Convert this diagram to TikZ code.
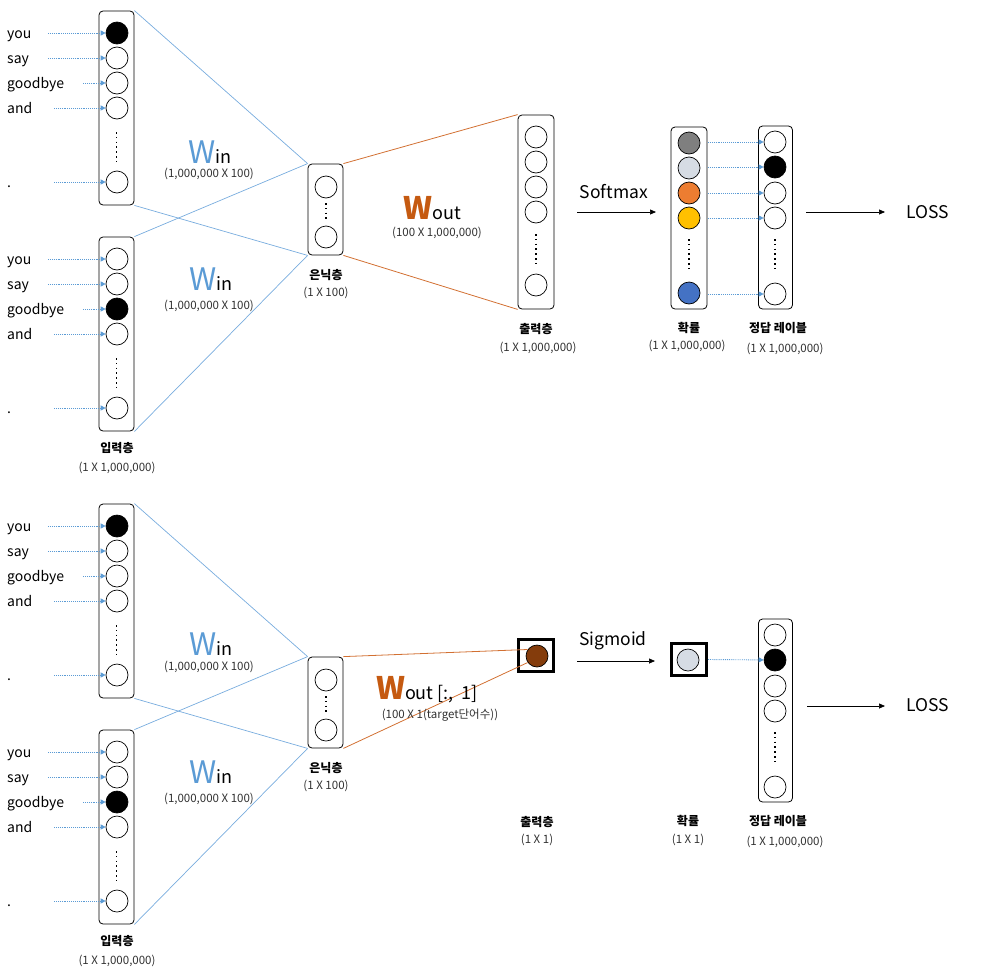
\documentclass[tikz,border=0pt]{standalone}
\usepackage{fontspec}
\setmainfont{Noto Sans CJK KR}
\usetikzlibrary{arrows.meta}

\definecolor{feedblue}{RGB}{91,155,213}
\definecolor{lineblue}{RGB}{120,172,222}
\definecolor{wblue}{RGB}{91,155,213}
\definecolor{lineorange}{RGB}{210,112,50}
\definecolor{worange}{RGB}{197,90,17}
\definecolor{brownunit}{RGB}{132,60,12}
\definecolor{pgray}{RGB}{127,127,127}
\definecolor{plight}{RGB}{214,220,228}
\definecolor{porange}{RGB}{237,125,49}
\definecolor{pyellow}{RGB}{255,192,0}
\definecolor{pblue}{RGB}{68,114,196}
\definecolor{dimtext}{RGB}{50,50,50}

\tikzset{
  colbox/.style={draw, rounded corners=4pt, line width=0.8pt, inner sep=0pt},
  thickbox/.style={draw, line width=3pt, inner sep=0pt},
  unit/.style={circle, draw, line width=0.7pt, minimum size=22pt, inner sep=0pt, fill=white},
  vdots/.style={line width=1.6pt, dash pattern=on 1.6pt off 3.2pt},
  feed/.style={densely dotted, line width=0.9pt, draw=feedblue,
    -{Triangle[length=5pt,width=5pt,fill=feedblue]}},
  inw/.style={draw=lineblue, line width=0.7pt},
  outw/.style={draw=lineorange, line width=0.8pt},
  flow/.style={line width=0.7pt, -{Triangle[length=6pt,width=5pt]}},
  word/.style={font=\fontsize{14}{16}\selectfont, inner sep=0pt, anchor=base west},
  ttl/.style={font=\bfseries\fontsize{12}{14}\selectfont, inner sep=0pt},
  dim/.style={font=\fontsize{11.5}{13}\selectfont, inner sep=0pt, text=dimtext},
  big/.style={font=\fontsize{17.5}{20}\selectfont, inner sep=0pt},
  wlabel/.style={inner sep=0pt, anchor=base},
}

% weight label: big coloured W followed by a subscript word
\newcommand\weightlabel[3]{{\fontsize{31}{31}\selectfont\color{#1}#3W}{\fontsize{18}{18}\selectfont #2}}

% one-hot input column: #1 name, #2 top edge, #3 index of the active word
\newcommand\wordcolumn[3]{%
  \node[colbox, minimum width=35pt, minimum height=194pt] (#1) at (116.5,{#2+97}) {};
  \foreach \k/\dy/\w/\sx in {1/22/you/48, 2/47/say/48, 3/72/goodbye/83, 4/97/and/54, 5/171/./54} {
    \ifnum\k=#3
      \node[unit, fill=black] (#1-\k) at (117,{#2+\dy}) {};
    \else
      \node[unit] (#1-\k) at (117,{#2+\dy}) {};
    \fi
    \node[word] (#1-w\k) at (7,{#2+\dy+5}) {\w};
    \coordinate (#1-s\k) at (\sx,{#2+\dy});
    \draw[feed] (#1-s\k) -- (#1-\k);
  }
  \draw[vdots] (116.5,{#2+121}) -- (116.5,{#2+152});
}

% hidden layer column: #1 name, #2 vertical offset
\newcommand\hiddencolumn[2]{%
  \node[colbox, minimum width=35pt, minimum height=91pt] (#1) at (325.5,{209.5+#2}) {};
  \node[unit] (#1-1) at (326,{187+#2}) {};
  \node[unit] (#1-2) at (326,{237+#2}) {};
  \draw[vdots] (326,{203+#2}) -- (326,{220+#2});
  \node[ttl] (#1-t) at (326,{275+#2}) {은닉층};
  \node[dim] (#1-d) at (326,{293+#2}) {(1 X 100)};
}

% correct-label column: #1 name, #2 vertical offset
\newcommand\answercolumn[2]{%
  \node[colbox, minimum width=34pt, minimum height=183pt] (#1) at (775.5,{217.5+#2}) {};
  \foreach \k/\y in {1/142, 2/167, 3/193, 4/218, 5/294} {
    \ifnum\k=2
      \node[unit, fill=black] (#1-\k) at (775,{\y+#2}) {};
    \else
      \node[unit] (#1-\k) at (775,{\y+#2}) {};
    \fi
  }
  \draw[vdots] (775,{239+#2}) -- (775,{270+#2});
  \node[ttl] (#1-t) at (778,{328+#2}) {정답 레이블};
  \node[dim] (#1-d) at (785,{349+#2}) {(1 X 1,000,000)};
}

\begin{document}
\begin{tikzpicture}[x=1pt, y=-1pt]
\useasboundingbox (0,0) rectangle (984,977);

%% ---------------- softmax model ----------------
\wordcolumn{inA}{11}{1}
\wordcolumn{inB}{237}{3}
\node[ttl] (inB-t) at (117,448) {입력층};
\node[dim] (inB-d) at (117,468) {(1 X 1,000,000)};

\hiddencolumn{hidA}{0}

\draw[inw] (inA.north east) -- (hidA.north west);
\draw[inw] (inA.south east) -- (hidA.south west);
\draw[inw] (inB.north east) -- (hidA.north west);
\draw[inw] (inB.south east) -- (hidA.south west);

\node[wlabel] (winA) at (210,163) {\weightlabel{wblue}{in}{}};
\node[dim] (winA-d) at (209,174) {(1,000,000 X 100)};
\node[wlabel] (winB) at (211,290) {\weightlabel{wblue}{in}{}};
\node[dim] (winB-d) at (209,306) {(1,000,000 X 100)};

% output layer
\node[colbox, minimum width=36pt, minimum height=194pt] (outA) at (536,212) {};
\foreach \k/\y in {1/137, 2/162, 3/187, 4/212, 5/285}
  \node[unit] (outA-\k) at (536,\y) {};
\draw[vdots] (536,234) -- (536,264);
\node[ttl] (outA-t) at (536,329) {출력층};
\node[dim] (outA-d) at (538,348) {(1 X 1,000,000)};

\draw[outw] (hidA.north east) -- (outA.north west);
\draw[outw] (hidA.south east) -- (outA.south west);

\node[wlabel] (woutA) at (432,219) {\weightlabel{worange}{out}{\bfseries}};
\node[dim] (woutA-d) at (437,233) {(100 X 1,000,000)};

% softmax step
\node[big] (smax) at (614,192) {Softmax};
\coordinate (smax-s) at (577,212);
\coordinate (smax-e) at (656,212);
\draw[flow] (smax-s) -- (smax-e);

% probabilities
\node[colbox, minimum width=36pt, minimum height=182pt] (probA) at (689,218) {};
\foreach \k/\y/\c in {1/143/pgray, 2/168/plight, 3/193/porange, 4/218/pyellow, 5/293/pblue}
  \node[unit, fill=\c] (probA-\k) at (689,\y) {};
\draw[vdots] (689,239) -- (689,270);
\node[ttl] (probA-t) at (689,328) {확률};
\node[dim] (probA-d) at (687,346) {(1 X 1,000,000)};

\answercolumn{ansA}{0}
\foreach \k/\y in {1/142, 2/167, 3/193, 4/218, 5/294} {
  \coordinate (probA-o\k) at (708,\y);
  \draw[feed] (probA-o\k) -- (ansA-\k);
}

\coordinate (lossA-s) at (806,212);
\coordinate (lossA-e) at (885,212);
\draw[flow] (lossA-s) -- (lossA-e);
\node[big] (lossA) at (928,212) {LOSS};

%% ---------------- sigmoid model ----------------
\wordcolumn{inC}{504}{1}
\wordcolumn{inD}{730}{3}
\node[ttl] (inD-t) at (117,941) {입력층};
\node[dim] (inD-d) at (117,961) {(1 X 1,000,000)};

\hiddencolumn{hidB}{493}

\draw[inw] (inC.north east) -- (hidB.north west);
\draw[inw] (inC.south east) -- (hidB.south west);
\draw[inw] (inD.north east) -- (hidB.north west);
\draw[inw] (inD.south east) -- (hidB.south west);

\node[wlabel] (winC) at (211,655) {\weightlabel{wblue}{in}{}};
\node[dim] (winC-d) at (209,667) {(1,000,000 X 100)};
\node[wlabel] (winD) at (211,783) {\weightlabel{wblue}{in}{}};
\node[dim] (winD-d) at (209,799) {(1,000,000 X 100)};

% single output unit
\node[thickbox, minimum width=35pt, minimum height=32pt] (outB) at (536,655.5) {};
\node[unit, fill=brownunit] (outB-1) at (537,656) {};
\node[ttl] (outB-t) at (537,822) {출력층};
\node[dim] (outB-d) at (537,840) {(1 X 1)};

\draw[outw] (hidB.north east) -- (outB-1.145);
\draw[outw] (hidB.south east) -- (outB-1.215);

\node[wlabel] (woutB) at (427,699) {\weightlabel{worange}{out\ [:,\ \ 1]}{\bfseries}};
\node[dim] (woutB-d) at (440,715) {(100 X 1(target단어수))};

% sigmoid step
\node[big] (sig) at (613,641) {Sigmoid};
\coordinate (sig-s) at (577,661);
\coordinate (sig-e) at (655,661);
\draw[flow] (sig-s) -- (sig-e);

\node[thickbox, minimum width=35pt, minimum height=32pt] (probB) at (689,659.5) {};
\node[unit, fill=plight] (probB-1) at (688,660) {};
\node[ttl] (probB-t) at (688,821) {확률};
\node[dim] (probB-d) at (688,840) {(1 X 1)};

\answercolumn{ansB}{493}
\draw[feed] (probB.east) -- (ansB-2);

\coordinate (lossB-s) at (807,706);
\coordinate (lossB-e) at (885,706);
\draw[flow] (lossB-s) -- (lossB-e);
\node[big] (lossB) at (928,705) {LOSS};

\end{tikzpicture}
\end{document}
